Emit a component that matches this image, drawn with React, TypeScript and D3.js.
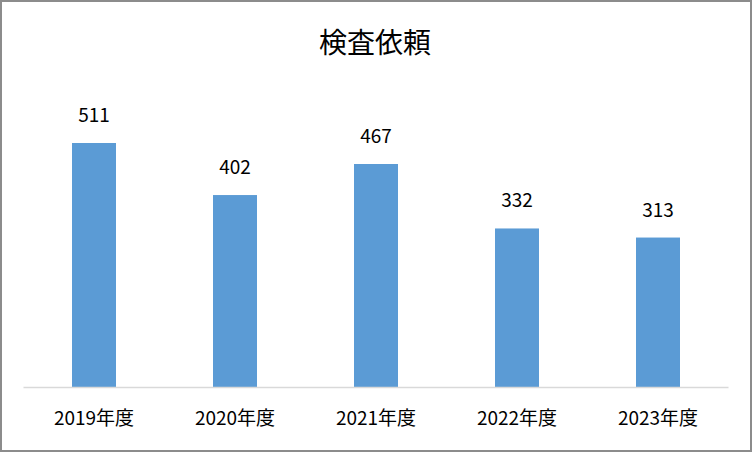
import React, { useRef, useEffect } from "react";
import * as d3 from "d3";

const title = "検査依頼";
const categories = ["2019年度", "2020年度", "2021年度", "2022年度", "2023年度"];
const values = [511, 402, 467, 332, 313];
const yMax = 600;

const W = 752;
const H = 452;
const FONT = "'Noto Sans CJK JP', 'Noto Sans', sans-serif";

const App: React.FC = () => {
  const svgRef = useRef<SVGSVGElement | null>(null);

  useEffect(() => {
    const svg = d3.select(svgRef.current);
    svg.selectAll("*").remove();

    const margin = { top: 100.5, right: 23.5, bottom: 65, left: 23.5 };
    const baseY = H - margin.bottom;

    svg
      .append("rect")
      .attr("x", 1)
      .attr("y", 1)
      .attr("width", W - 2)
      .attr("height", H - 2)
      .attr("fill", "#fff")
      .attr("stroke", "#8c8c8c")
      .attr("stroke-width", 2);

    const x = d3
      .scaleBand<string>()
      .domain(categories)
      .range([margin.left, W - margin.right])
      .paddingInner(0.688)
      .paddingOuter(0.344);

    const y = d3.scaleLinear().domain([0, yMax]).range([baseY, margin.top]);

    svg
      .append("text")
      .attr("x", W / 2 - 1)
      .attr("y", 53)
      .attr("text-anchor", "middle")
      .style("font-family", FONT)
      .style("font-size", "28px")
      .attr("fill", "#000")
      .text(title);

    const data = categories.map((c, i) => ({ c, v: values[i] }));

    svg
      .append("g")
      .selectAll("rect")
      .data(data)
      .join("rect")
      .attr("x", (d) => x(d.c) ?? 0)
      .attr("y", (d) => y(d.v))
      .attr("width", x.bandwidth())
      .attr("height", (d) => baseY - y(d.v))
      .attr("fill", "#5b9bd5");

    svg
      .append("line")
      .attr("x1", margin.left)
      .attr("x2", W - margin.right)
      .attr("y1", baseY + 0.5)
      .attr("y2", baseY + 0.5)
      .attr("stroke", "#d9d9d9")
      .attr("stroke-width", 1.5);

    svg
      .append("g")
      .selectAll("text")
      .data(data)
      .join("text")
      .attr("x", (d) => (x(d.c) ?? 0) + x.bandwidth() / 2)
      .attr("y", (d) => y(d.v) - 21)
      .attr("text-anchor", "middle")
      .style("font-family", FONT)
      .style("font-size", "19px")
      .attr("fill", "#000")
      .text((d) => String(d.v));

    svg
      .append("g")
      .selectAll("text")
      .data(categories)
      .join("text")
      .attr("x", (d) => (x(d) ?? 0) + x.bandwidth() / 2)
      .attr("y", baseY + 38)
      .attr("text-anchor", "middle")
      .style("font-family", FONT)
      .style("font-size", "19px")
      .attr("fill", "#000")
      .text((d) => d);
  }, []);

  return (
    <div style={{ position: "absolute", left: 0, top: 0 }}>
      <svg ref={svgRef} width={W} height={H} style={{ display: "block" }} />
    </div>
  );
};

export default App;
